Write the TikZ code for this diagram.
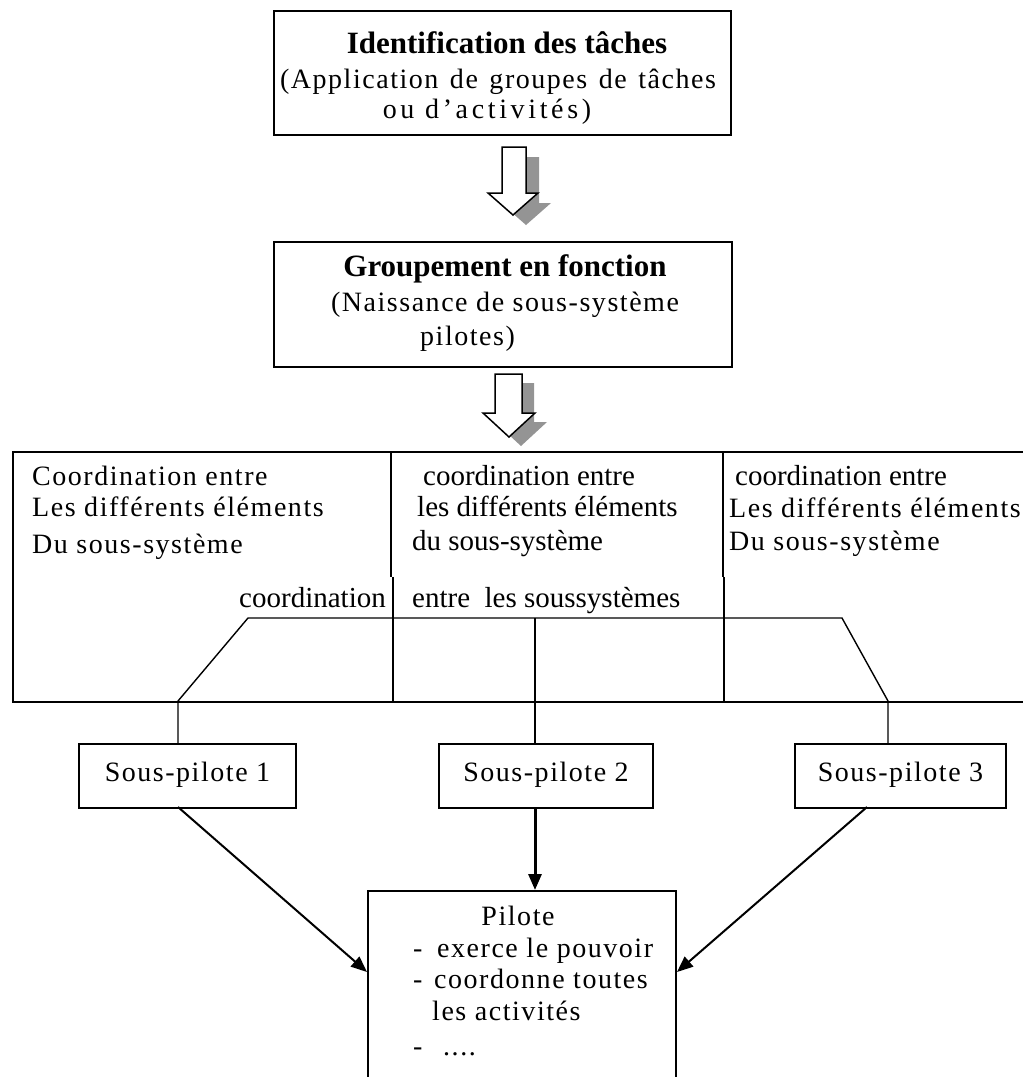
\documentclass[tikz,border=0pt]{standalone}
\usepackage{fontspec}
\setmainfont{Liberation Serif}
\newfontfamily\wideserif[LetterSpace=5.5]{Liberation Serif}
\newfontfamily\widerserif[LetterSpace=13]{Liberation Serif}
\newfontfamily\tightserif{Liberation Serif}
\newcommand\fsz[1]{\fontsize{#1}{#1}\selectfont}
\usetikzlibrary{arrows.meta,calc}
\begin{document}
\begin{tikzpicture}[x=1pt,y=-1pt,
  box/.style={draw, line width=2pt, inner sep=0pt, anchor=north west},
  rule/.style={line width=1.4pt},
  wide/.style={inner sep=0pt, font=\wideserif\fsz{28}},
  wider/.style={inner sep=0pt, font=\widerserif\fsz{28}},
  tight/.style={inner sep=0pt, font=\tightserif\fsz{29}},
  title/.style={inner sep=0pt, font=\bfseries\fsz{31}},
  hollow/.style={draw, fill=white, line width=1.5pt, line join=miter},
  shade/.style={fill=black!42},
  conn/.style={line width=2pt, -{Triangle[length=16pt,width=13pt]}},
  sptext/.style={wide, text height=18pt, text depth=8pt}
]
\useasboundingbox (0,0) rectangle (1023,1077);

% --- top box: task identification
\node[box, minimum width=457, minimum height=124] (ident) at (273,10) {};
\node[title, anchor=base] (identA) at (507,53) {Identification des tâches};
\node[wide, anchor=base] (identB) at (498,88) {\spaceskip=11.5pt\relax (Application de groupes de tâches};
\node[wider, anchor=base] (identC) at (487,118) {ou d’activités)};

% hollow arrow with shadow
\begin{scope}[shift={(13,10)}]
  \fill[shade] (502,147) -- (526,147) -- (526,193) -- (538,193) -- (513,215) -- (488,193) -- (502,193) -- cycle;
\end{scope}
\draw[hollow] (502,147) -- (526,147) -- (526,193) -- (538,193) -- (513,215) -- (488,193) -- (502,193) -- cycle;

% --- second box: grouping by function
\node[box, minimum width=458, minimum height=125] (group) at (273,241) {};
\node[title, anchor=base] (groupA) at (505,276) {Groupement en fonction};
\node[wide, anchor=base] (groupB) at (505,311) {(Naissance de sous-système};
\node[wide, anchor=base west] (groupC) at (420,345) {pilotes)};

\begin{scope}[shift={(12,9)}]
  \fill[shade] (495,374) -- (522,374) -- (522,413) -- (535,413) -- (509,437) -- (483,413) -- (495,413) -- cycle;
\end{scope}
\draw[hollow] (495,374) -- (522,374) -- (522,413) -- (535,413) -- (509,437) -- (483,413) -- (495,413) -- cycle;

% --- coordination frame
\node[box, minimum width=1030, minimum height=250] (coord) at (12,451) {};
\draw[rule] (391,451) -- (391,577);
\draw[rule] (393,577) -- (393,701);
\draw[rule] (723,451) -- (723,577);
\draw[rule] (724,577) -- (724,701);

\node[wide, anchor=base west] (cl1) at (32,485) {Coordination entre};
\node[wide, anchor=base west] (cl2) at (32,516) {Les différents éléments};
\node[wide, anchor=base west] (cl3) at (32,553) {Du sous-système};

\node[tight, anchor=base west] (cm1) at (423,485) {coordination entre};
\node[tight, anchor=base west] (cm2) at (417,516) {les différents éléments};
\node[tight, anchor=base west] (cm3) at (412,550) {du sous-système};

\node[tight, anchor=base west] (cr1) at (735,485) {coordination entre};
\node[wide, anchor=base west] (cr2) at (729,517) {Les différents éléments};
\node[wide, anchor=base west] (cr3) at (729,550) {Du sous-système};

\node[tight, anchor=base east] (cs1) at (386,607) {coordination};
\node[tight, anchor=base west] (cs2) at (412,607) {entre\ \ les soussystèmes};

% --- sub-pilots
\node[box, minimum width=217, minimum height=64] (sp1) at (78,743) {};
\node[box, minimum width=214, minimum height=64] (sp2) at (438,743) {};
\node[box, minimum width=211, minimum height=64] (sp3) at (794,743) {};
\node[sptext] at (sp1.center) {Sous-pilote 1};
\node[sptext] at (sp2.center) {Sous-pilote 2};
\node[sptext] at (sp3.center) {Sous-pilote 3};

% links between the sub-pilots
\coordinate (hl) at (248,618);
\coordinate (hr) at (842,618);
\coordinate (k1) at (178,701);
\coordinate (k3) at (888,701);
\coordinate (km) at (535,618);
\draw[rule] (k1 |- sp1.north) -- (k1) -- (hl) -- (hr) -- (k3) -- (k3 |- sp3.north);
\draw[rule] (km) -- (km |- sp2.north);

% --- pilot
\node[box, minimum width=308, minimum height=200] (pil) at (367,890) {};
\node[wide, anchor=base] (pt0) at (518,925) {Pilote};
\node[wide, anchor=base west] (pd1) at (413,957) {-};
\node[wide, anchor=base west] (pt1) at (437,957) {exerce le pouvoir};
\node[wide, anchor=base west] (pd2) at (413,988) {-};
\node[wide, anchor=base west] (pt2) at (434,988) {coordonne toutes};
\node[wide, anchor=base west] (pt3) at (432,1020) {les activités};
\node[wide, anchor=base west] (pd3) at (413,1055) {-};
\node[wide, anchor=base west] (pt4) at (443,1055) {....};

% --- arrows to the pilot
\coordinate (a1) at (178,807);
\coordinate (a3) at (867,807);
\draw[conn] (a1) -- ($(pil.north west)+(0,82)$);
\draw[conn, line width=3pt] (sp2.south -| km) -- (pil.north -| km);
\draw[conn] (a3) -- ($(pil.north east)+(0,82)$);
\end{tikzpicture}
\end{document}
